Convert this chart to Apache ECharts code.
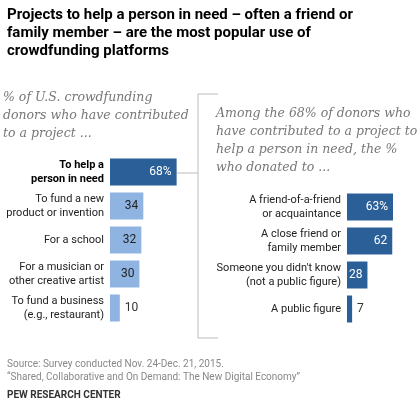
<!doctype html>
<html>
<head>
<meta charset="UTF-8" />
<script src="https://cdn.jsdelivr.net/npm/echarts@6/dist/echarts.min.js"></script>
<style>html,body{margin:0;background:#fff}#c{width:420px;height:419px}</style>
</head>
<body>
<div id="c"></div>
<script>
const leftCats = ['To help a\nperson in need', 'To fund a new\nproduct or invention', 'For a school', 'For a musician or\nother creative artist', 'To fund a business\n(e.g., restaurant)'];
const leftVals = [68, 34, 32, 30, 10];
const rightCats = ['A friend-of-a-friend\nor acquaintance', 'A close friend or\nfamily member', 'Someone you didn\'t know\n(not a public figure)', 'A public figure'];
const rightVals = [63, 62, 28, 7];

const dark = '#2b5f98', light = '#8fb4e2', grey = '#777', sans = 'Roboto, Arial, sans-serif', serif = '"DejaVu Serif", Georgia, serif';
const chart = echarts.init(document.getElementById('c'));

function barData(vals, isLeft) {
  return vals.map((v, i) => {
    const small = v < 20;
    const big = isLeft ? i === 0 : true;
    return {
      value: v,
      itemStyle: { color: isLeft && i > 0 ? light : dark },
      label: {
        show: true,
        position: small ? 'right' : 'insideRight',
        formatter: i === 0 ? '{c}%' : '{c}',
        color: small ? '#333' : (big ? '#fff' : '#222'),
        fontSize: 12, fontFamily: sans, distance: 5
      }
    };
  });
}

function yAx(idx, cats, boldFirst) {
  return {
    type: 'category', gridIndex: idx, data: cats, inverse: true,
    axisLine: { show: false }, axisTick: { show: false },
    axisLabel: {
      color: '#222', fontSize: 11, fontFamily: sans, lineHeight: 14, margin: 6,
      formatter: (v, i) => (boldFirst && i === 0) ? v.split('\n').map(s => '{b|' + s + '}').join('\n') : v,
      rich: { b: { fontWeight: 'bold', fontSize: 11, fontFamily: sans, color: '#000', lineHeight: 14 } }
    }
  };
}

chart.setOption({
  animation: false,
  grid: [
    { left: 110, top: 155, width: 98, height: 170 },
    { left: 347, top: 190, width: 96, height: 136 }
  ],
  xAxis: [
    { type: 'value', gridIndex: 0, min: 0, max: 100, show: false },
    { type: 'value', gridIndex: 1, min: 0, max: 100, show: false }
  ],
  yAxis: [yAx(0, leftCats, true), yAx(1, rightCats, false)],
  series: [
    { type: 'bar', xAxisIndex: 0, yAxisIndex: 0, barWidth: 27, data: barData(leftVals, true) },
    { type: 'bar', xAxisIndex: 1, yAxisIndex: 1, barWidth: 27, data: barData(rightVals, false) }
  ],
  graphic: [
    { type: 'text', left: 7, top: 6, style: { text: 'Projects to help a person in need – often a friend or\nfamily member – are the most popular use of\ncrowdfunding platforms', font: 'bold 15px ' + sans, fill: '#000', lineHeight: 18 } },
    { type: 'text', left: 3, top: 89, style: { text: '% of U.S. crowdfunding\ndonors who have contributed\nto a project ...', font: 'italic 12.5px ' + serif, fill: grey, lineHeight: 18 } },
    { type: 'text', left: 216, top: 105, style: { text: 'Among the 68% of donors who\nhave contributed to a project to\nhelp a person in need, the %\nwho donated to ...', font: 'italic 12.5px ' + serif, fill: grey, lineHeight: 18 } },
    { type: 'polyline', shape: { points: [[218, 94], [198, 94], [198, 338], [218, 338]] }, style: { stroke: '#bbb', lineWidth: 1, fill: null } },
    { type: 'line', shape: { x1: 177, y1: 173, x2: 198, y2: 173 }, style: { stroke: '#bbb', lineWidth: 1 } },
    { type: 'text', left: 7, top: 358, style: { text: 'Source: Survey conducted Nov. 24-Dec. 21, 2015.\n“Shared, Collaborative and On Demand: The New Digital Economy”', font: '10px ' + sans, fill: '#888', lineHeight: 13 } },
    { type: 'text', left: 7, top: 390, style: { text: 'PEW RESEARCH CENTER', font: 'bold 10px ' + sans, fill: '#333' } }
  ]
});
</script>
</body>
</html>
